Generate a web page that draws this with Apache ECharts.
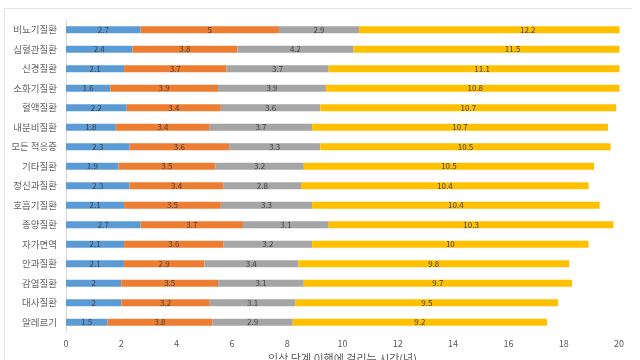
<!DOCTYPE html>
<html>
<head>
<meta charset="utf-8">
<script src="https://cdn.jsdelivr.net/npm/echarts@6/dist/echarts.min.js"></script>
<style>html,body{margin:0;padding:0;background:#fff;}#c{width:640px;height:360px;}</style>
</head>
<body>
<div id="c"></div>
<script>
const categories = ['비뇨기질환','심혈관질환','신경질환','소화기질환','혈액질환','내분비질환','모든 적응증','기타질환','정신과질환','호흡기질환','종양질환','자가면역','안과질환','감염질환','대사질환','알레르기'];
const phase1 = [2.7,2.4,2.1,1.6,2.2,1.8,2.3,1.9,2.3,2.1,2.7,2.1,2.1,2,2,1.5];
const phase2 = [5,3.8,3.7,3.9,3.4,3.4,3.6,3.5,3.4,3.5,3.7,3.6,2.9,3.5,3.2,3.8];
const phase3 = [2.9,4.2,3.7,3.9,3.6,3.7,3.3,3.2,2.8,3.3,3.1,3.2,3.4,3.1,3.1,2.9];
const approval = [12.2,11.5,11.1,10.8,10.7,10.7,10.5,10.5,10.4,10.4,10.3,10,9.8,9.7,9.5,9.2];
const seriesNames = ['1상','2상','3상','승인'];
const xTicks = [0,2,4,6,8,10,12,14,16,18,20];
const axisTitle = '임상 단계 이행에 걸리는 시간(년)';
const colors = ['#5B9BD5','#ED7D31','#A5A5A5','#FFC000'];

const font = '"Noto Sans CJK KR", "Noto Sans", sans-serif';
const chart = echarts.init(document.getElementById('c'), null, {renderer:'canvas'});
const allData = [phase1, phase2, phase3, approval];
const option = {
  animation: false,
  backgroundColor: '#fff',
  textStyle: {fontFamily: font},
  grid: {left: 66, right: 21, top: 20, bottom: 28, containLabel: false, outerBoundsMode: 'none'},
  xAxis: {
    type: 'value', min: xTicks[0], max: xTicks[xTicks.length-1], interval: 2,
    axisLine: {show: false}, axisTick: {show: false}, splitLine: {show: false},
    axisLabel: {color: '#595959', fontSize: 9, margin: 7, fontFamily: font},
    name: axisTitle, nameLocation: 'middle', nameGap: 20,
    nameTextStyle: {color: '#595959', fontSize: 11, verticalAlign: 'top', fontFamily: font}
  },
  yAxis: {
    type: 'category', data: categories, inverse: true,
    axisLine: {show: true, lineStyle: {color: '#d9d9d9', width: 1}},
    axisTick: {show: false},
    axisLabel: {color: '#666666', fontSize: 9.5, margin: 9, fontFamily: font}
  },
  series: allData.map((d, i) => ({
    name: seriesNames[i], type: 'bar', stack: 'total', data: d,
    barWidth: 7, clip: false,
    itemStyle: {color: colors[i]},
    label: {show: true, position: 'inside', color: '#404040', fontSize: 8, fontFamily: font}
  }))
};
chart.setOption(option);
const x20 = chart.convertToPixel({xAxisIndex: 0}, xTicks[xTicks.length-1]);
chart.setOption({
  graphic: [
    {type: 'rect', z: 100, shape: {x: x20 + 0.5, y: 16, width: 640 - x20, height: 320}, style: {fill: '#fff'}},
    {type: 'line', z: 101, shape: {x1: 4.5, y1: 8.5, x2: 632, y2: 8.5}, style: {stroke: '#e3e3e3', lineWidth: 1}},
    {type: 'line', z: 101, shape: {x1: 4.5, y1: 8.5, x2: 4.5, y2: 360}, style: {stroke: '#e3e3e3', lineWidth: 1}}
  ]
});
</script>
</body>
</html>
